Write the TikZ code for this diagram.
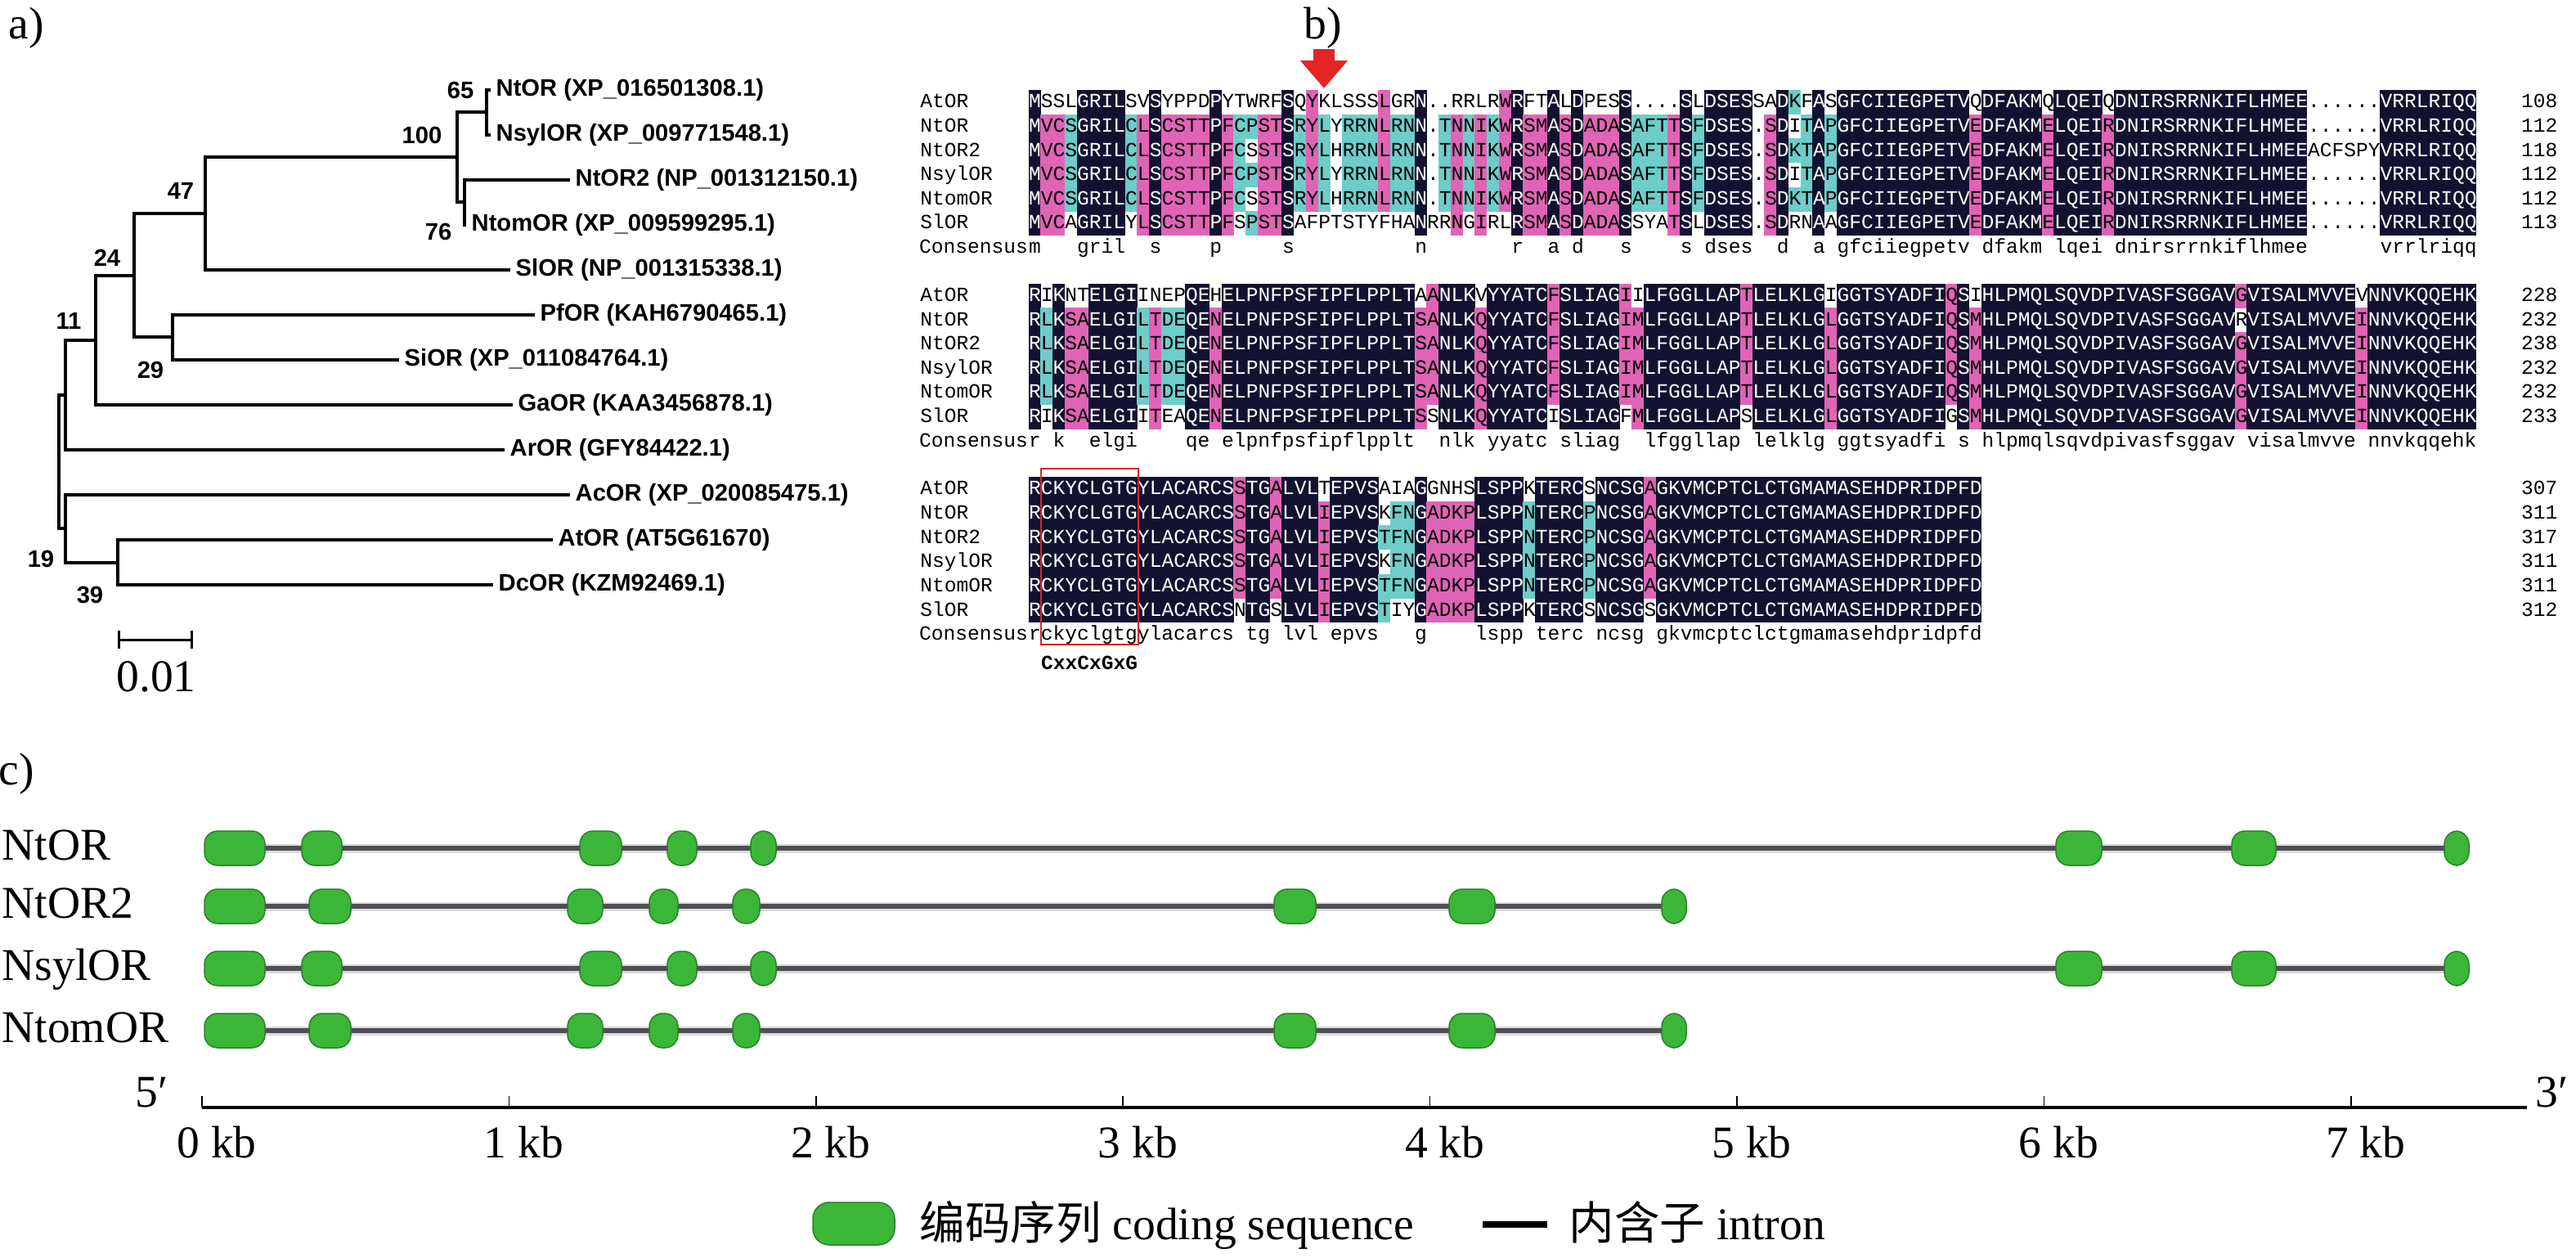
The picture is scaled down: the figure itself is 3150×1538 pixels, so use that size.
\documentclass[tikz,border=0pt]{standalone}
\usepackage{fontspec}
\usetikzlibrary{arrows.meta}
\setmainfont{Liberation Serif}
\newfontfamily\treesans{Liberation Sans}
\newfontfamily\alnmono{Liberation Mono}
\newfontfamily\cjkfont{Noto Sans CJK SC}

\definecolor{alnnavy}{RGB}{18,18,48}
\definecolor{alnpink}{RGB}{224,100,182}
\definecolor{alncyan}{RGB}{110,205,200}
\definecolor{arrowred}{RGB}{226,38,38}
\definecolor{boxred}{RGB}{214,40,40}
\definecolor{exongreen}{RGB}{60,182,56}
\definecolor{exonedge}{RGB}{40,130,40}
\definecolor{introngray}{RGB}{78,78,86}

\newcommand\alnfont{\alnmono\fontsize{6.995pt}{8pt}\selectfont}
\newcommand\alnfontbf{\alnmono\bfseries\fontsize{6.995pt}{8pt}\selectfont}
\newcommand\treefont{\treesans\bfseries\fontsize{8.3pt}{10pt}\selectfont}
\newcommand\labelfont{\fontsize{15.8pt}{18pt}\selectfont}
\newcommand\alnwhite[1]{\textcolor{white}{#1}}
\newcommand\alnblank{\hphantom{x}}

% alignment block: colours each column by how many of the six rows agree
\ExplSyntaxOn
\seq_new:N \l__aln_rows_seq
\seq_new:N \l__aln_ends_seq
\seq_new:N \l__aln_chars_seq
\seq_new:N \l__aln_names_seq
\seq_set_from_clist:Nn \l__aln_names_seq { AtOR , NtOR , NtOR2 , NsylOR , NtomOR , SlOR }
\int_new:N \l__aln_len_int
\int_new:N \l__aln_row_int
\int_new:N \l__aln_count_int
\tl_new:N \l__aln_color_tl
\tl_new:N \l__aln_first_tl
\tl_new:N \l__aln_cons_tl
\str_new:N \l__aln_tmp_str
\fp_new:N \l__aln_top_fp
\fp_new:N \l__aln_x_fp
\fp_new:N \l__aln_y_fp
\fp_const:Nn \c__aln_xzero_fp { 1257.5 }
\fp_const:Nn \c__aln_w_fp { 14.75 }
\fp_const:Nn \c__aln_pitch_fp { 29.6 }
\fp_const:Nn \c__aln_base_fp { 7 }
\int_step_inline:nn { 6 } { \tl_new:c { l__aln_text_#1_tl } }

\cs_new_protected:Npn \__aln_cell:
  {
    \fp_set:Nn \l__aln_y_fp
      { \l__aln_top_fp + ( \l__aln_row_int - 1 ) * \c__aln_pitch_fp - \c__aln_pitch_fp / 2 }
    \use:e
      {
        \exp_not:N \fill [ \l__aln_color_tl ]
          ( \fp_use:N \l__aln_x_fp , \fp_use:N \l__aln_y_fp )
          ~ rectangle ~ ++ ( \fp_eval:n { \c__aln_w_fp + 0.4 } , \fp_eval:n { \c__aln_pitch_fp + 0.4 } ) ;
      }
  }

\cs_new_protected:Npn \__aln_column:n #1
  {
    \seq_clear:N \l__aln_chars_seq
    \seq_map_inline:Nn \l__aln_rows_seq
      { \seq_put_right:Nx \l__aln_chars_seq { \str_item:nn {##1} {#1} } }
    \fp_set:Nn \l__aln_x_fp { \c__aln_xzero_fp + ( #1 - 1 ) * \c__aln_w_fp }
    \int_zero:N \l__aln_row_int
    \seq_map_inline:Nn \l__aln_chars_seq
      {
        \int_incr:N \l__aln_row_int
        \int_zero:N \l__aln_count_int
        \seq_map_inline:Nn \l__aln_chars_seq
          { \str_if_eq:nnT {##1} {####1} { \int_incr:N \l__aln_count_int } }
        \tl_set:Nn \l__aln_color_tl { none }
        \str_if_eq:nnF {##1} { . }
          {
            \int_case:nn { \l__aln_count_int }
              {
                { 6 } { \tl_set:Nn \l__aln_color_tl { alnnavy } }
                { 5 } { \tl_set:Nn \l__aln_color_tl { alnpink } }
                { 4 } { \tl_set:Nn \l__aln_color_tl { alncyan } }
                { 3 } { \tl_set:Nn \l__aln_color_tl { alncyan } }
              }
          }
        \str_if_eq:VnF \l__aln_color_tl { none } { \__aln_cell: }
        \str_if_eq:VnTF \l__aln_color_tl { alnnavy }
          { \tl_put_right:cn { l__aln_text_ \int_use:N \l__aln_row_int _tl } { \alnwhite {##1} } }
          { \tl_put_right:cn { l__aln_text_ \int_use:N \l__aln_row_int _tl } { ##1 } }
      }
    \tl_set:Nx \l__aln_first_tl { \seq_item:Nn \l__aln_chars_seq { 1 } }
    \int_zero:N \l__aln_count_int
    \seq_map_inline:Nn \l__aln_chars_seq
      { \str_if_eq:VnT \l__aln_first_tl {##1} { \int_incr:N \l__aln_count_int } }
    \bool_lazy_and:nnTF
      { \int_compare_p:nNn { \l__aln_count_int } = { 6 } }
      { ! \str_if_eq_p:Vn \l__aln_first_tl { . } }
      { \tl_put_right:Nx \l__aln_cons_tl { \str_lowercase:f { \l__aln_first_tl } } }
      { \tl_put_right:Nn \l__aln_cons_tl { \alnblank } }
  }

\cs_new_protected:Npn \aln_block:nnn #1#2#3
  {
    \fp_set:Nn \l__aln_top_fp {#1}
    \seq_set_from_clist:Nn \l__aln_rows_seq {#2}
    \seq_set_from_clist:Nn \l__aln_ends_seq {#3}
    \str_set:Nx \l__aln_tmp_str { \seq_item:Nn \l__aln_rows_seq { 1 } }
    \int_set:Nn \l__aln_len_int { \str_count:N \l__aln_tmp_str }
    \int_step_inline:nn { 6 } { \tl_clear:c { l__aln_text_##1_tl } }
    \tl_clear:N \l__aln_cons_tl
    \int_step_function:nN { \l__aln_len_int } \__aln_column:n
    \int_step_inline:nn { 6 }
      {
        \fp_set:Nn \l__aln_y_fp { \l__aln_top_fp + ( ##1 - 1 ) * \c__aln_pitch_fp + \c__aln_base_fp }
        \use:e
          {
            \exp_not:N \node [ alnname ] ~ at ~
              ( \fp_eval:n { \c__aln_xzero_fp - 9 * \c__aln_w_fp } , \fp_use:N \l__aln_y_fp )
              { \seq_item:Nn \l__aln_names_seq { ##1 } } ;
            \exp_not:N \node [ alnseq ] ~ at ~ ( \fp_use:N \c__aln_xzero_fp , \fp_use:N \l__aln_y_fp )
              { \exp_not:v { l__aln_text_##1_tl } } ;
            \exp_not:N \node [ alnnum ] ~ at ~ ( 3128 , \fp_use:N \l__aln_y_fp )
              { \seq_item:Nn \l__aln_ends_seq { ##1 } } ;
          }
      }
    \fp_set:Nn \l__aln_y_fp { \l__aln_top_fp + 6 * \c__aln_pitch_fp + \c__aln_base_fp }
    \use:e
      {
        \exp_not:N \node [ alncons ] ~ at ~ ( \fp_use:N \c__aln_xzero_fp , \fp_use:N \l__aln_y_fp ) { Consensus } ;
        \exp_not:N \node [ alnseq ] ~ at ~ ( \fp_use:N \c__aln_xzero_fp , \fp_use:N \l__aln_y_fp )
          { \exp_not:V \l__aln_cons_tl } ;
      }
  }
\NewDocumentCommand \alnblock { m m m } { \aln_block:nnn {#1} {#2} {#3} }
\ExplSyntaxOff

\begin{document}
\begin{tikzpicture}[x=0.1mm, y=-0.1mm,
  panel/.style={font=\labelfont, inner sep=0pt},
  branch/.style={line width=0.4mm},
  leaf/.style={font=\treefont, anchor=west, inner sep=0.6mm},
  boot/.style={font=\treefont, inner sep=0pt},
  alnseq/.style={font=\alnfont, anchor=base west, inner sep=0pt},
  alnname/.style={font=\alnfont, anchor=base west, inner sep=0pt},
  alncons/.style={font=\alnfont, anchor=base east, inner sep=0pt},
  alnnum/.style={font=\alnfont, anchor=base east, inner sep=0pt},
  genelabel/.style={font=\labelfont, anchor=base west, inner sep=0pt},
  ticklabel/.style={font=\labelfont, anchor=base, inner sep=0pt},
  legendtext/.style={font=\labelfont, anchor=base west, inner sep=0pt},
  intronhalo/.style={draw=gray!30, line width=1.1mm},
  intron/.style={draw=introngray, line width=0.6mm},
  exon/.style={fill=exongreen, draw=exonedge, line width=0.15mm, rounded corners=1.6mm}]
\useasboundingbox (0,0) rectangle (3150,1538);

%% PANEL LABELS
\node[panel] (label_a) at (32,34) {a)};
\node[panel] (label_b) at (1618,34) {b)};
\node[panel] (label_c) at (20,946) {c)};

%% TREE
\node[leaf] (leaf_ntor) at (600,110) {NtOR (XP\_016501308.1)};
\node[leaf] (leaf_nsylor) at (600,165) {NsylOR (XP\_009771548.1)};
\node[leaf] (leaf_ntor2) at (697,220) {NtOR2 (NP\_001312150.1)};
\node[leaf] (leaf_ntomor) at (570,275) {NtomOR (XP\_009599295.1)};
\node[leaf] (leaf_slor) at (624,330) {SlOR (NP\_001315338.1)};
\node[leaf] (leaf_pfor) at (654,385) {PfOR (KAH6790465.1)};
\node[leaf] (leaf_sior) at (488,440) {SiOR (XP\_011084764.1)};
\node[leaf] (leaf_gaor) at (627,495) {GaOR (KAA3456878.1)};
\node[leaf] (leaf_aror) at (617,550) {ArOR (GFY84422.1)};
\node[leaf] (leaf_acor) at (697,605) {AcOR (XP\_020085475.1)};
\node[leaf] (leaf_ator) at (676,660) {AtOR (AT5G61670)};
\node[leaf] (leaf_dcor) at (603,715) {DcOR (KZM92469.1)};

% internal nodes
\coordinate (root) at (72,564.5);
\coordinate (n_a) at (80,483);
\coordinate (n_19) at (80,646);
\coordinate (n_11) at (117,416);
\coordinate (n_39) at (144,687.5);
\coordinate (n_24) at (164,337);
\coordinate (n_29) at (211,412.5);
\coordinate (n_47) at (251,261);
\coordinate (n_100) at (559,192.5);
\coordinate (n_76) at (568,247.5);
\coordinate (n_65) at (595,137.5);

\draw[branch] (root) |- (n_a);
\draw[branch] (root) |- (n_19);
\draw[branch] (n_a) |- (n_11);
\draw[branch] (n_a) |- (leaf_aror.west);
\draw[branch] (n_11) |- (n_24);
\draw[branch] (n_11) |- (leaf_gaor.west);
\draw[branch] (n_24) |- (n_47);
\draw[branch] (n_24) |- (n_29);
\draw[branch] (n_29) |- (leaf_pfor.west);
\draw[branch] (n_29) |- (leaf_sior.west);
\draw[branch] (n_47) |- (n_100);
\draw[branch] (n_47) |- (leaf_slor.west);
\draw[branch] (n_100) |- (n_65);
\draw[branch] (n_100) |- (n_76);
\draw[branch] (n_65) |- (leaf_ntor.west);
\draw[branch] (n_65) |- (leaf_nsylor.west);
\draw[branch] (n_76) |- (leaf_ntor2.west);
\draw[branch] (n_76) |- (leaf_ntomor.west);
\draw[branch] (n_19) |- (leaf_acor.west);
\draw[branch] (n_19) |- (n_39);
\draw[branch] (n_39) |- (leaf_ator.west);
\draw[branch] (n_39) |- (leaf_dcor.west);

% bootstrap values
\node[boot] (boot_65) at (563,110) {65};
\node[boot] (boot_100) at (516,165) {100};
\node[boot] (boot_76) at (536,283) {76};
\node[boot] (boot_47) at (221,233) {47};
\node[boot] (boot_24) at (131,315) {24};
\node[boot] (boot_11) at (84,392) {11};
\node[boot] (boot_29) at (184,452) {29};
\node[boot] (boot_19) at (50,683) {19};
\node[boot] (boot_39) at (110,727) {39};

% scale bar
\coordinate (scale_a) at (144,782);
\coordinate (scale_b) at (236,782);
\draw[line width=0.3mm, {Bar[width=2.2mm]}-{Bar[width=2.2mm]}] (scale_a) -- (scale_b);
\node[panel] (scale_label) at (191,827) {0.01};

%% ALIGNMENT
\alnblock{125}{
MSSLGRILSVSYPPDPYTWRFSQYKLSSSLGRN..RRLRWRFTALDPESS....SLDSESSADKFASGFCIIEGPETVQDFAKMQLQEIQDNIRSRRNKIFLHMEE......VRRLRIQQ,
MVCSGRILCLSCSTTPFCPSTSRYLYRRNLRNN.TNNIKWRSMASDADASAFTTSFDSES.SDITAPGFCIIEGPETVEDFAKMELQEIRDNIRSRRNKIFLHMEE......VRRLRIQQ,
MVCSGRILCLSCSTTPFCSSTSRYLHRRNLRNN.TNNIKWRSMASDADASAFTTSFDSES.SDKTAPGFCIIEGPETVEDFAKMELQEIRDNIRSRRNKIFLHMEEACFSPYVRRLRIQQ,
MVCSGRILCLSCSTTPFCPSTSRYLYRRNLRNN.TNNIKWRSMASDADASAFTTSFDSES.SDITAPGFCIIEGPETVEDFAKMELQEIRDNIRSRRNKIFLHMEE......VRRLRIQQ,
MVCSGRILCLSCSTTPFCSSTSRYLHRRNLRNN.TNNIKWRSMASDADASAFTTSFDSES.SDKTAPGFCIIEGPETVEDFAKMELQEIRDNIRSRRNKIFLHMEE......VRRLRIQQ,
MVCAGRILYLSCSTTPFSPSTSAFPTSTYFHANRRNGIRLRSMASDADASSYATSLDSES.SDRNAAGFCIIEGPETVEDFAKMELQEIRDNIRSRRNKIFLHMEE......VRRLRIQQ
}{108,112,118,112,112,113}

\alnblock{361.5}{
RIKNTELGIINEPQEHELPNFPSFIPFLPPLTAANLKVYYATCFSLIAGIILFGGLLAPTLELKLGIGGTSYADFIQSIHLPMQLSQVDPIVASFSGGAVGVISALMVVEVNNVKQQEHK,
RLKSAELGILTDEQENELPNFPSFIPFLPPLTSANLKQYYATCFSLIAGIMLFGGLLAPTLELKLGLGGTSYADFIQSMHLPMQLSQVDPIVASFSGGAVRVISALMVVEINNVKQQEHK,
RLKSAELGILTDEQENELPNFPSFIPFLPPLTSANLKQYYATCFSLIAGIMLFGGLLAPTLELKLGLGGTSYADFIQSMHLPMQLSQVDPIVASFSGGAVGVISALMVVEINNVKQQEHK,
RLKSAELGILTDEQENELPNFPSFIPFLPPLTSANLKQYYATCFSLIAGIMLFGGLLAPTLELKLGLGGTSYADFIQSMHLPMQLSQVDPIVASFSGGAVGVISALMVVEINNVKQQEHK,
RLKSAELGILTDEQENELPNFPSFIPFLPPLTSANLKQYYATCFSLIAGIMLFGGLLAPTLELKLGLGGTSYADFIQSMHLPMQLSQVDPIVASFSGGAVGVISALMVVEINNVKQQEHK,
RIKSAELGIITEAQENELPNFPSFIPFLPPLTSSNLKQYYATCISLIAGFMLFGGLLAPSLELKLGLGGTSYADFIGSMHLPMQLSQVDPIVASFSGGAVGVISALMVVEINNVKQQEHK
}{228,232,238,232,232,233}

\alnblock{598}{
RCKYCLGTGYLACARCSSTGALVLTEPVSAIAGGNHSLSPPKTERCSNCSGAGKVMCPTCLCTGMAMASEHDPRIDPFD,
RCKYCLGTGYLACARCSSTGALVLIEPVSKFNGADKPLSPPNTERCPNCSGAGKVMCPTCLCTGMAMASEHDPRIDPFD,
RCKYCLGTGYLACARCSSTGALVLIEPVSTFNGADKPLSPPNTERCPNCSGAGKVMCPTCLCTGMAMASEHDPRIDPFD,
RCKYCLGTGYLACARCSSTGALVLIEPVSKFNGADKPLSPPNTERCPNCSGAGKVMCPTCLCTGMAMASEHDPRIDPFD,
RCKYCLGTGYLACARCSSTGALVLIEPVSTFNGADKPLSPPNTERCPNCSGAGKVMCPTCLCTGMAMASEHDPRIDPFD,
RCKYCLGTGYLACARCSNTGSLVLIEPVSTIYGADKPLSPPKTERCSNCSGSGKVMCPTCLCTGMAMASEHDPRIDPFD
}{307,311,317,311,311,312}

% site marker and motif box
\coordinate (arrow_top) at (1619,60);
\coordinate (arrow_tip) at (1619,108);
\draw[arrowred, line width=2.6mm, -{Triangle[length=3.4mm,width=5.6mm]}] (arrow_top) -- (arrow_tip);
\coordinate (motif_a) at (1273,573);
\coordinate (motif_b) at (1392,788);
\draw[boxred, line width=0.22mm] (motif_a) rectangle (motif_b);
\node[font=\alnfontbf, inner sep=0pt] (motif) at (1332,810) {CxxCxGxG};

%% GENE STRUCTURE
\foreach \gname/\gy/\gend/\glist in {
  NtOR/1037/3004/{250/324,369/418,709/760,816/852,918/949,2514/2570,2729/2783,2989/3019},
  NtOR2/1108/2047/{250/324,378/429,694/737,794/829,896/929,1558/1609,1772/1828,2032/2062},
  NsylOR/1184/3004/{250/324,369/418,709/760,816/852,918/949,2514/2570,2729/2783,2989/3019},
  NtomOR/1260/2047/{250/324,378/429,694/737,794/829,896/929,1558/1609,1772/1828,2032/2062}}
{
  \node[genelabel] (gene_\gname) at (2,\gy+14) {\gname};
  \draw[intronhalo] (287,\gy) -- (\gend,\gy);
  \draw[intron] (287,\gy) -- (\gend,\gy);
  \foreach \xa/\xb in \glist
    \draw[exon] (\xa,\gy-21) rectangle (\xb,\gy+21);
}

% kb axis
\coordinate (axis_start) at (247,1354);
\coordinate (axis_end) at (3090,1354);
\draw[line width=0.45mm] (axis_start) -- (axis_end);
\foreach \k in {0,...,7} {
  \draw[line width=0.15mm] (247+375.4*\k,1354) -- ++(0,-14);
  \node[ticklabel] (kb_\k) at (265+375.4*\k,1415) {\k\ kb};
}
\node[genelabel] (end_five) at (165,1353) {5′};
\node[genelabel] (end_three) at (3100,1353) {3′};

% legend
\draw[exon, rounded corners=2mm] (994,1470) rectangle (1094,1522);
\node[legendtext] (legend_cds) at (1124,1515) {{\cjkfont 编码序列} coding sequence};
\coordinate (legend_a) at (1813,1497);
\coordinate (legend_b) at (1892,1497);
\draw[line width=0.8mm] (legend_a) -- (legend_b);
\node[legendtext] (legend_intron) at (1918,1515) {{\cjkfont 内含子} intron};

\end{tikzpicture}
\end{document}
